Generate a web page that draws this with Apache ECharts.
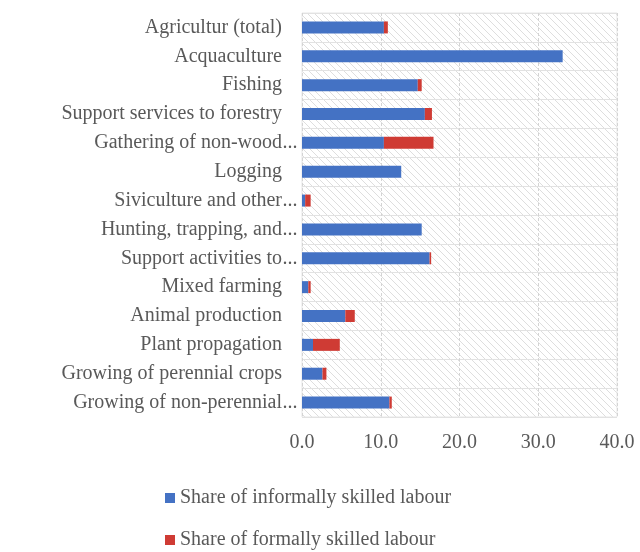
<!DOCTYPE html>
<html>
<head>
<meta charset="utf-8">
<script src="https://cdn.jsdelivr.net/npm/echarts@6/dist/echarts.min.js"></script>
<style>
  html, body { margin: 0; padding: 0; background: #ffffff; }
  #chart { width: 640px; height: 552px; }
</style>
</head>
<body>
<div id="chart"></div>
<script>
// Activity names, top to bottom; "truncated" marks names shown shortened with an ellipsis
const categories = [
  'Agricultur (total)',
  'Acquaculture',
  'Fishing',
  'Support services to forestry',
  'Gathering of non-wood',
  'Logging',
  'Siviculture and other',
  'Hunting, trapping, and',
  'Support activities to',
  'Mixed farming',
  'Animal production',
  'Plant propagation',
  'Growing of perennial crops',
  'Growing of non-perennial'
];
const truncated = [false, false, false, false, true, false, true, true, true, false, false, false, false, true];

// Share of informally skilled labour (%)
const informalShare = [10.4, 33.1, 14.7, 15.6, 10.4, 12.6, 0.4, 15.2, 16.2, 0.8, 5.5, 1.4, 2.6, 11.1];
// Share of formally skilled labour (%), stacked after the informal share
const formalShare = [0.5, 0.0, 0.5, 0.9, 6.3, 0.0, 0.7, 0.0, 0.2, 0.3, 1.2, 3.4, 0.5, 0.3];

const xTicks = [0, 10, 20, 30, 40];
const seriesNames = ['Share of informally skilled labour', 'Share of formally skilled labour'];

const FONT = '"Liberation Serif", "Times New Roman", serif';
const TEXT = '#595959';

// diagonal hatch used as plot background
function hatchPattern() {
  const c = document.createElement('canvas');
  c.width = 7; c.height = 7;
  const g = c.getContext('2d');
  g.fillStyle = '#ffffff';
  g.fillRect(0, 0, 7, 7);
  g.strokeStyle = '#dedede';
  g.lineWidth = 1;
  g.beginPath();
  g.moveTo(-1, -1); g.lineTo(8, 8);
  g.moveTo(-8, -1); g.lineTo(1, 8);
  g.moveTo(6, -1); g.lineTo(15, 8);
  g.stroke();
  return c;
}

const legendText = { fontFamily: FONT, fontSize: 20, color: TEXT };

const chart = echarts.init(document.getElementById('chart'), null, { renderer: 'canvas' });

chart.setOption({
  animation: false,
  backgroundColor: '#ffffff',
  textStyle: { fontFamily: FONT },
  grid: {
    show: true,
    left: 302, right: 23, top: 13, bottom: 135,
    backgroundColor: { image: hatchPattern(), repeat: 'repeat' },
    borderColor: '#e6e6e6',
    borderWidth: 1
  },
  // one legend block per series, stacked one above the other
  legend: [
    {
      left: 160, top: 483,
      icon: 'rect', itemWidth: 10, itemHeight: 10, itemGap: 6,
      data: [seriesNames[0]],
      textStyle: legendText
    },
    {
      left: 160, top: 525,
      icon: 'rect', itemWidth: 10, itemHeight: 10, itemGap: 6,
      data: [seriesNames[1]],
      textStyle: legendText
    }
  ],
  xAxis: {
    type: 'value',
    min: xTicks[0], max: xTicks[xTicks.length - 1], interval: 10,
    axisLine: { show: false },
    axisTick: { show: false },
    axisLabel: {
      margin: 16,
      fontFamily: FONT, fontSize: 20, color: TEXT,
      formatter: v => v.toFixed(1)
    },
    splitLine: { show: true, lineStyle: { color: '#d4d4d4', type: [3, 2], width: 1 } }
  },
  yAxis: {
    type: 'category',
    inverse: true,
    data: categories,
    axisLine: { show: false },
    axisTick: { show: false },
    splitLine: { show: true, lineStyle: { color: '#e2e2e2', width: 1 } },
    axisLabel: {
      margin: 4,
      formatter: (v, i) => '{n|' + v + '}' + (truncated[i] ? '{e|...}' : '{e|}'),
      rich: {
        n: { fontFamily: FONT, fontSize: 20, color: TEXT },
        e: { fontFamily: FONT, fontSize: 20, color: TEXT, width: 16, align: 'left' }
      }
    }
  },
  series: [
    {
      name: seriesNames[0], type: 'bar', stack: 'share',
      barWidth: 12,
      itemStyle: { color: '#4472C4' },
      data: informalShare
    },
    {
      name: seriesNames[1], type: 'bar', stack: 'share',
      barWidth: 12,
      itemStyle: { color: '#CF3B34' },
      data: formalShare
    }
  ]
});
</script>
</body>
</html>
